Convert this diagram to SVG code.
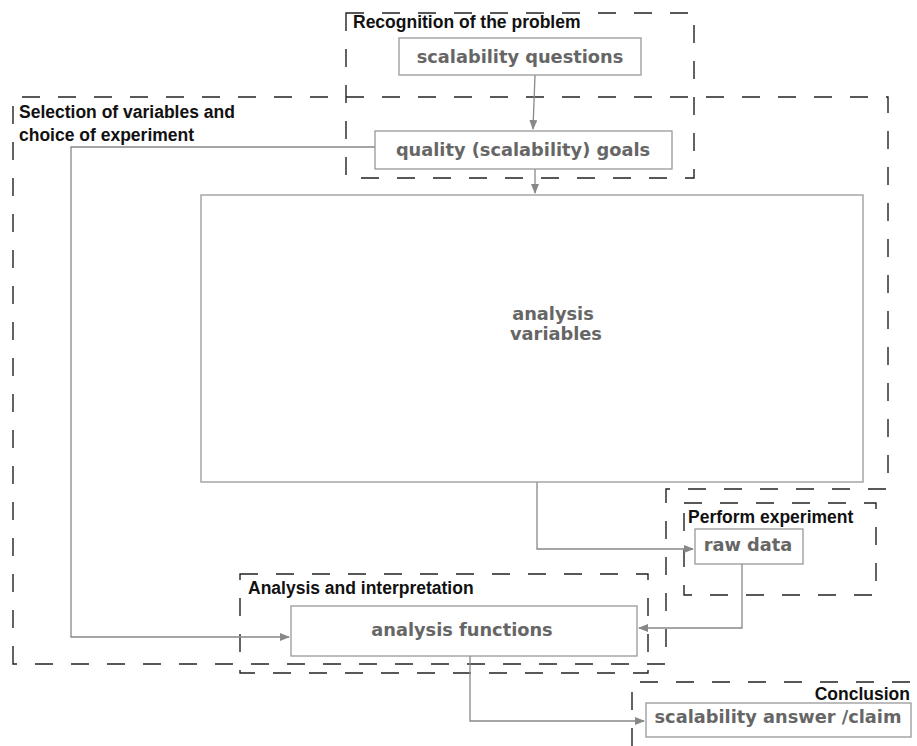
<svg xmlns="http://www.w3.org/2000/svg" width="917" height="746" viewBox="0 0 917 746">
<style>
.grp{fill:none;stroke:#222;stroke-width:1.4;stroke-dasharray:18 18}
.glab{font-family:"Liberation Sans",Arial,sans-serif;font-weight:bold;font-size:17.5px;fill:#111}
.node{fill:#fff;stroke:#999;stroke-width:1.3}
.ntxt{font-family:"DejaVu Sans",sans-serif;font-weight:bold;font-size:17.8px;fill:#666;text-anchor:middle}
.conn{fill:none;stroke:#888;stroke-width:1.3}
</style>
<defs>
<marker id="arr" markerWidth="10" markerHeight="8" refX="9" refY="4" orient="auto" markerUnits="userSpaceOnUse">
<path d="M0,0 L10,4 L0,8 z" fill="#888"/>
</marker>
</defs>
<rect width="917" height="746" fill="#fff"/>
<g id="groups">
<rect class="grp" x="346" y="13" width="348" height="165"/>
<path class="grp" d="M13,664 L13,97 L888,97 L888,489 L666,489 L666,664 Z"/>
<rect class="grp" x="684" y="503" width="192" height="92"/>
<rect class="grp" x="240" y="574" width="408" height="99"/>
<path class="grp" d="M632,746 L632,682 L917,682"/>
<text class="glab" x="353" y="28">Recognition of the problem</text>
<text class="glab" x="19" y="118">Selection of variables and</text>
<text class="glab" x="19" y="141">choice of experiment</text>
<text class="glab" x="688" y="523">Perform experiment</text>
<text class="glab" x="248" y="594">Analysis and interpretation</text>
<text class="glab" x="910" y="700" text-anchor="end">Conclusion</text>
</g>
<g id="connectors">
<path class="conn" d="M535,75 L533,129" marker-end="url(#arr)"/>
<path class="conn" d="M535,169 L535,193" marker-end="url(#arr)"/>
<path class="conn" d="M375,147 L71,147 L71,637 L289,637" marker-end="url(#arr)"/>
<path class="conn" d="M537,482 L537,549 L693,549" marker-end="url(#arr)"/>
<path class="conn" d="M742,564 L742,628 L639,628" marker-end="url(#arr)"/>
<path class="conn" d="M470,656 L470,721 L644,721" marker-end="url(#arr)"/>
</g>
<g id="n-questions">
<rect class="node" x="399" y="38" width="242" height="37"/>
<text class="ntxt" x="520" y="63">scalability questions</text>
</g>
<g id="n-goals">
<rect class="node" x="375" y="131" width="297" height="38"/>
<text class="ntxt" x="523" y="156">quality (scalability) goals</text>
</g>
<g id="n-variables">
<rect class="node" x="201" y="195" width="662" height="287"/>
<text class="ntxt" x="553" y="320">analysis</text>
<text class="ntxt" x="556" y="340">variables</text>
</g>
<g id="n-raw">
<rect class="node" x="695" y="529" width="108" height="35"/>
<text class="ntxt" x="748" y="551">raw data</text>
</g>
<g id="n-functions">
<rect class="node" x="291" y="606" width="346" height="50"/>
<text class="ntxt" x="462" y="636">analysis functions</text>
</g>
<g id="n-answer">
<rect class="node" x="646" y="703" width="265" height="34"/>
<text class="ntxt" x="778" y="723">scalability answer /claim</text>
</g>
</svg>
